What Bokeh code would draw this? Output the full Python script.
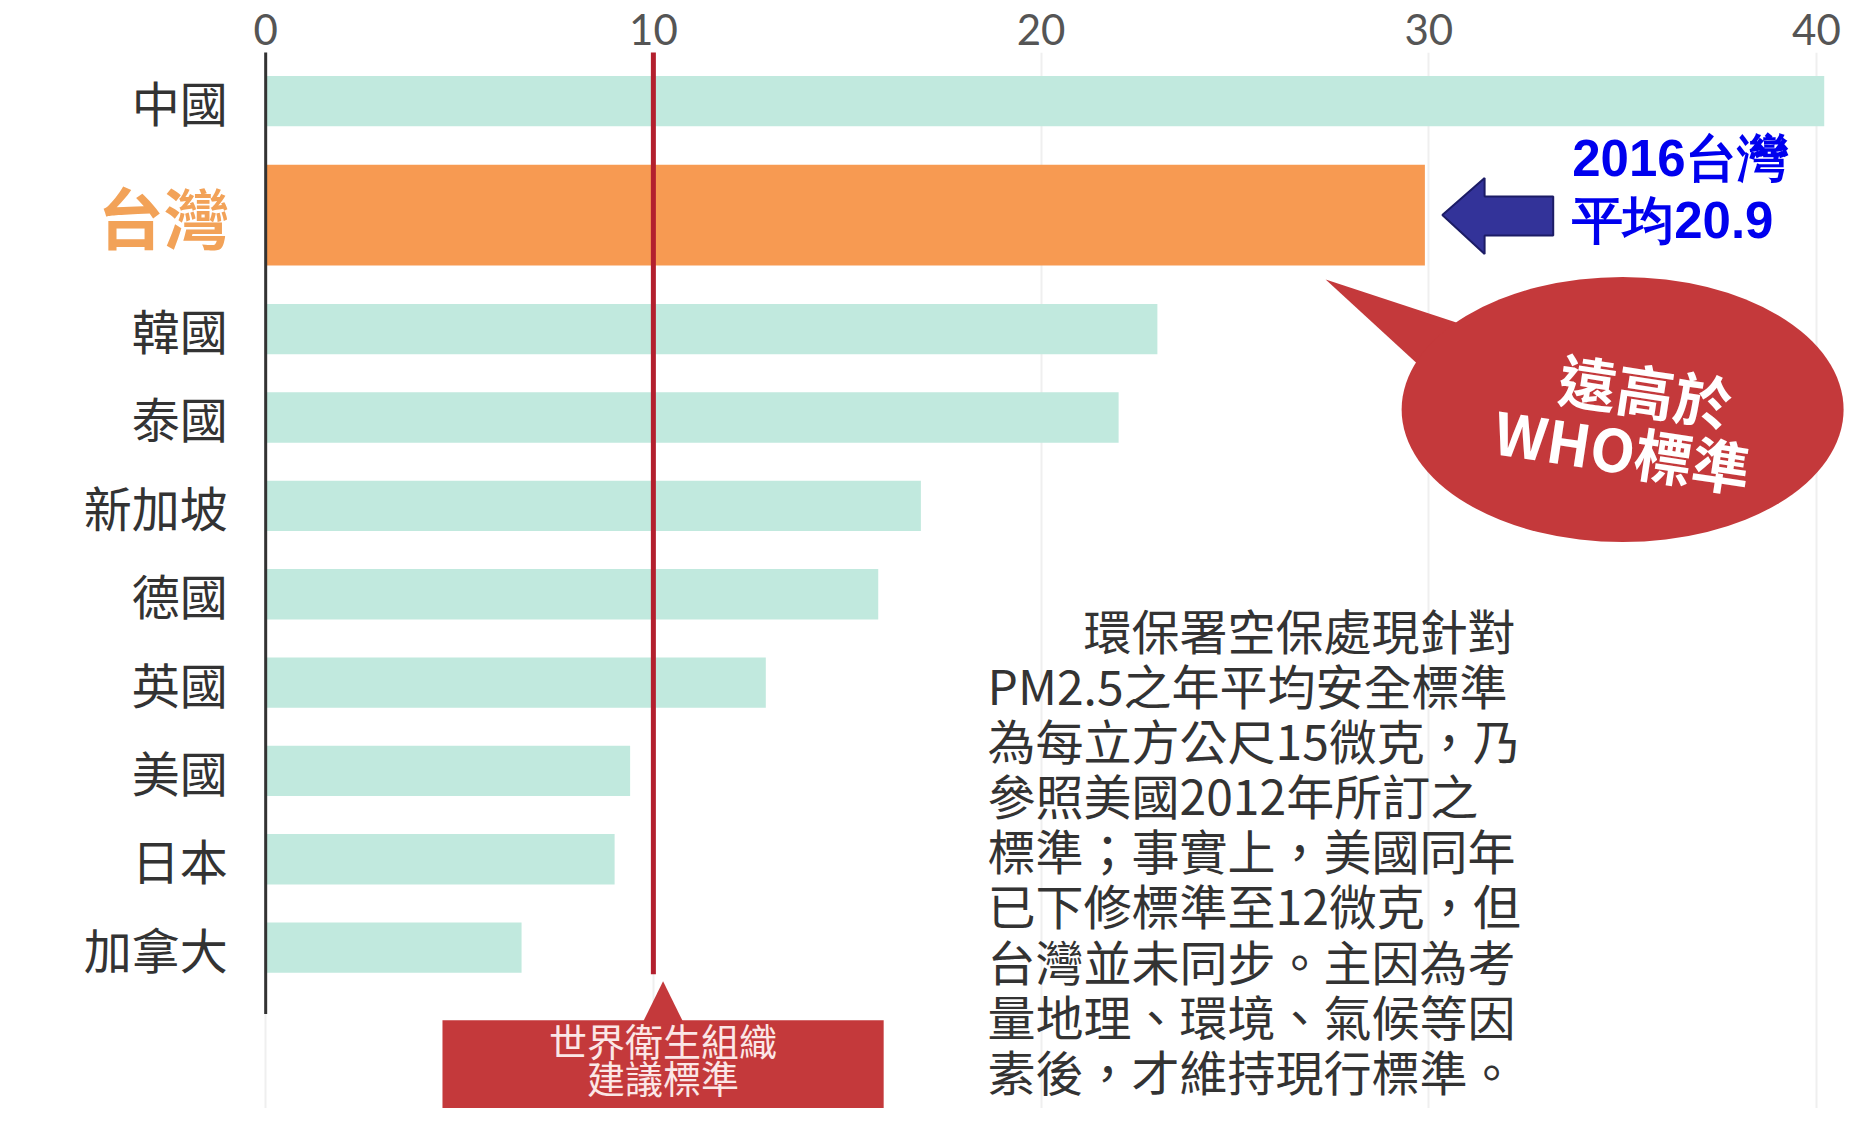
from bokeh.plotting import figure
from bokeh.models import Range1d, FixedTicker, ColumnDataSource
from bokeh.embed import file_html
from bokeh.resources import INLINE
from bokeh.core.properties import value

# ---------------- data ----------------
countries = ["中國", "台灣", "韓國", "泰國", "新加坡", "德國", "英國", "美國", "日本", "加拿大"]
pm25 = [40.2, 29.9, 23.0, 22.0, 16.9, 15.8, 12.9, 9.4, 9.0, 6.6]
highlight = "台灣"
who_standard = 10
x_ticks = [0, 10, 20, 30, 40]
taiwan_2016_year = 2016
taiwan_2016_avg = 20.9
who_label_lines = ["世界衛生組織", "建議標準"]
bubble_lines = ["遠高於", "WHO標準"]
note_lines = [
    "環保署空保處現針對",
    "PM2.5之年平均安全標準",
    "為每立方公尺15微克，乃",
    "參照美國2012年所訂之",
    "標準；事實上，美國同年",
    "已下修標準至12微克，但",
    "台灣並未同步。主因為考",
    "量地理、環境、氣候等因",
    "素後，才維持現行標準。",
]

# ---------------- layout helpers ----------------
CJK = value("Noto Sans CJK TC")
TEAL = "#C1E9DE"
ORANGE = "#F79A52"
RED = "#C4393B"
gap = 0.29  # extra space around the highlighted row (in row units)

ypos = []
cur = 0.0
for i, c in enumerate(countries):
    if i > 0:
        cur += 1 + (gap if (c == highlight or countries[i - 1] == highlight) else 0)
    ypos.append(cur)

heights = [1.14 if c == highlight else 0.57 for c in countries]
colors = [ORANGE if c == highlight else TEAL for c in countries]

src = ColumnDataSource(dict(y=ypos, right=pm25, height=heights, color=colors, name=countries))

X0, X1 = -6.84, 41.11
p = figure(width=1859, height=1108,
           x_range=Range1d(X0, X1), y_range=Range1d(11.40, -0.55),
           x_axis_location="above", y_axis_location=None,
           toolbar_location=None, output_backend="svg",
           min_border_left=0, min_border_right=0, min_border_bottom=0, min_border_top=52)
p.outline_line_color = None
p.background_fill_color = "white"
p.border_fill_color = "white"

ax = p.xaxis[0]
ax.ticker = FixedTicker(ticks=x_ticks)
ax.axis_line_color = None
ax.major_tick_line_color = None
ax.minor_tick_line_color = None
ax.major_label_text_font = "Lato"
ax.major_label_text_font_size = "42px"
ax.major_label_text_color = "#555555"
ax.major_label_standoff = 2

p.xgrid.grid_line_color = "#EFEFEF"
p.xgrid.grid_line_width = 2
p.ygrid.visible = False

# bars
p.hbar(y="y", left=0, right="right", height="height", fill_color="color",
       line_color=None, source=src)

# baseline (zero line) and WHO line
p.segment(x0=[0], x1=[0], y0=[ypos[0] - 0.7], y1=[ypos[-1] + 0.75],
          line_color="#333333", line_width=3)
p.segment(x0=[who_standard], x1=[who_standard], y0=[ypos[0] - 0.7], y1=[ypos[-1] + 0.3],
          line_color="#B3202E", line_width=5)

# category labels
norm = [i for i, c in enumerate(countries) if c != highlight]
hi = [i for i, c in enumerate(countries) if c == highlight]
p.text(x=[0] * len(norm), y=[ypos[i] for i in norm], text=[countries[i] for i in norm],
       x_offset=-38, text_align="right", text_baseline="middle",
       text_font=CJK, text_font_size="48px", text_color="#333333")
p.text(x=[0] * len(hi), y=[ypos[i] for i in hi], text=[countries[i] for i in hi],
       x_offset=-36, text_align="right", text_baseline="middle",
       text_font=CJK, text_font_size="66px", text_font_style="bold", text_color="#F2A258")

# WHO callout box at the bottom
box_top = ypos[-1] + 0.82
bx = who_standard + 0.25
p.quad(left=[bx - 5.69], right=[bx + 5.69],
       top=[box_top], bottom=[box_top + 2.0], fill_color=RED, line_color=None)
p.patch(x=[bx - 0.55, bx, bx + 0.55],
        y=[box_top + 0.05, ypos[-1] + 0.38, box_top + 0.05], fill_color=RED, line_color=None)
p.text(x=[bx, bx], y=[box_top + 0.22, box_top + 0.64],
       text=who_label_lines, text_align="center", text_baseline="middle",
       text_font=CJK, text_font_size="38px", text_color="#FBE6E6")

# red speech bubble
p.patch(x=[27.34, 31.3, 30.0], y=[ypos[1] + 0.73, ypos[1] + 1.3, ypos[1] + 1.8],
        fill_color=RED, line_color=None)
p.ellipse(x=[35.0], y=[3.49], width=[11.4], height=[3.0], fill_color=RED, line_color=None)
p.text(x=[35.6, 35.0], y=[3.26, 3.93], text=bubble_lines, angle=-0.15,
       text_align="center", text_baseline="middle",
       text_font=CJK, text_font_size="58px", text_font_style="bold", text_color="white")

# blue arrow pointing at Taiwan's bar
ty = ypos[countries.index(highlight)]
tx = pm25[countries.index(highlight)] + 0.45
p.patch(x=[tx, tx + 1.09, tx + 1.09, tx + 2.86, tx + 2.86, tx + 1.09, tx + 1.09],
        y=[ty, ty - 0.42, ty - 0.21, ty - 0.21, ty + 0.23, ty + 0.23, ty + 0.44],
        fill_color="#333399", line_color="#1C1C66", line_width=2)
p.text(x=[33.7, 33.7], y=[ty - 0.64, ty + 0.06],
       text=[f"{taiwan_2016_year}台灣", f"平均{taiwan_2016_avg}"],
       text_align="left", text_baseline="middle",
       text_font=value("Liberation Sans"), text_font_size="51px",
       text_font_style="bold", text_color="#0000EE")

# explanatory note
note_font_px = 48
px_per_unit = 1859 / (X1 - X0)
note_left = 18.62
note_x = [note_left + (2 * note_font_px / px_per_unit if i == 0 else 0) for i in range(len(note_lines))]
note_y = [5.97 + 0.624 * i for i in range(len(note_lines))]
p.text(x=note_x, y=note_y, text=note_lines, text_align="left", text_baseline="middle",
       text_font=CJK, text_font_size=f"{note_font_px}px", text_color="#333333")

open("out.html", "w").write(file_html(p, INLINE))
